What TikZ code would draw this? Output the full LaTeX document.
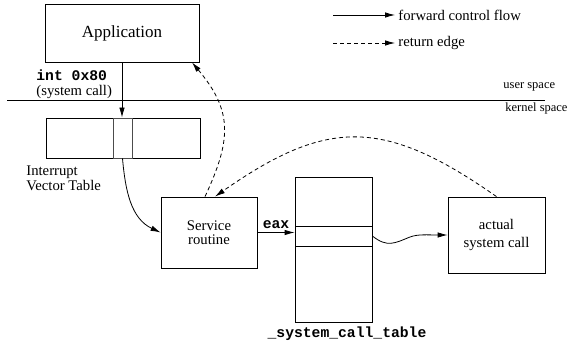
\documentclass[tikz,border=0pt]{standalone}
\usepackage{fontspec}
\setmainfont{Liberation Serif}
\setmonofont{Liberation Mono}
\usetikzlibrary{arrows.meta}

\begin{document}
\begin{tikzpicture}[x=1pt,y=-1pt,line width=0.8pt,
  font=\fontsize{14.7}{15.5}\selectfont,
  box/.style={draw,inner sep=0pt,align=center},
  cell/.style={draw=black!70,inner sep=0pt},
  flow/.style={-{Latex[length=10pt,width=5.5pt]}},
  ret/.style={flow,dash pattern=on 4pt off 3pt},
  code/.style={font=\fontsize{14.7}{15.5}\selectfont\ttfamily\bfseries},
  space/.style={font=\fontsize{12.5}{15}\selectfont,anchor=west}]
\useasboundingbox (0,0) rectangle (569,347);
\node[box,minimum width=154pt,minimum height=58pt,font=\fontsize{17}{20}\selectfont] (app) at (122,33) {Application};
\node[box,minimum width=154pt,minimum height=40pt] (ivt) at (123,138) {};
\node[cell,minimum width=19pt,minimum height=40pt] (slot) at (122.5,138) {};
\node[box,minimum width=96pt,minimum height=71pt,font=\fontsize{14.7}{14.5}\selectfont] (srv) at (209,232.5) {Service\\routine};
\node[box,minimum width=77pt,minimum height=145pt] (tbl) at (333.5,249.5) {};
\node[draw,inner sep=0pt,minimum width=77pt,minimum height=20pt] (tslot) at (333.5,236) {};
\node[box,minimum width=97pt,minimum height=76pt,font=\fontsize{14.7}{18.5}\selectfont] (act) at (496.5,235) {actual\\system call};
\node[code,anchor=west,inner sep=0pt] (intlbl) at (36,75) {int 0x80};
\node[anchor=west,inner sep=0pt] (sclbl) at (36,92) {(system call)};
\node[align=left,anchor=west,inner sep=0pt] (ivtlbl) at (26,178.5) {Interrupt\\Vector Table};
\node[code,inner sep=0pt] (eaxlbl) at (276,225) {eax};
\node[code,inner sep=0pt] (tbllbl) at (347,334) {\_system\_call\_table};
\node[space,inner sep=0pt] (user) at (503,87) {user space};
\node[space,inner sep=0pt] (kernel) at (505,108) {kernel space};
\draw (7,100) -- (545,100);
\coordinate (lfwd0) at (333,15);
\coordinate (lret0) at (333,43);
\node[anchor=west,inner sep=3pt] (lfwd) at (395,15) {forward control flow};
\node[anchor=west,inner sep=3pt] (lret) at (395,43) {return edge};
\draw[flow] (lfwd0) -- (lfwd.west);
\draw[ret] (lret0) -- (lret.west);
\draw[flow] (app.south) -- (app.south |- slot.north);
\draw[flow] (slot.south) to[out=-85,in=155] (srv.west);
\draw[flow] (srv.east) -- (srv.east -| tbl.west);
\draw[flow] (tslot.east) .. controls +(15,12) and +(-15,6) .. (410,237) .. controls +(8,-3) and +(-20,0) .. (act.west);
\draw[ret] ([xshift=-4pt]srv.north) to[out=65,in=-50,looseness=1.2] ([xshift=70pt]app.south);
\draw[ret] (act.north) to[out=145,in=35,looseness=1.25] ([xshift=6pt]srv.north);
\end{tikzpicture}
\end{document}
